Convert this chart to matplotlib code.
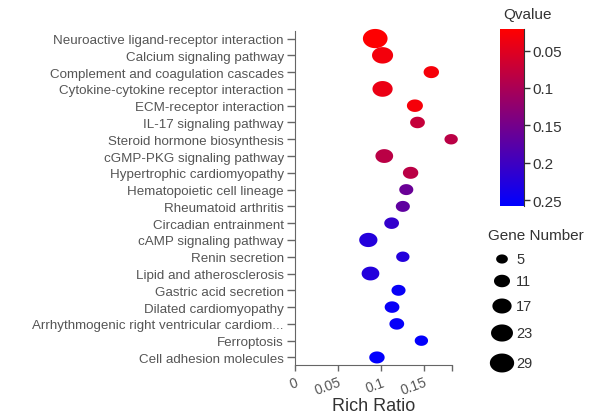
"""KEGG enrichment bubble chart: rich ratio vs pathway, coloured by Q value."""

import matplotlib
matplotlib.use("Agg")
import matplotlib.pyplot as plt
import numpy as np
from matplotlib.colors import LinearSegmentedColormap, Normalize
from matplotlib.cm import ScalarMappable
from matplotlib.path import Path
from matplotlib.transforms import ScaledTranslation

plt.rcParams["font.family"] = ["Liberation Sans", "DejaVu Sans"]

pathways = [
    "Neuroactive ligand-receptor interaction",
    "Calcium signaling pathway",
    "Complement and coagulation cascades",
    "Cytokine-cytokine receptor interaction",
    "ECM-receptor interaction",
    "IL-17 signaling pathway",
    "Steroid hormone biosynthesis",
    "cGMP-PKG signaling pathway",
    "Hypertrophic cardiomyopathy",
    "Hematopoietic cell lineage",
    "Rheumatoid arthritis",
    "Circadian entrainment",
    "cAMP signaling pathway",
    "Renin secretion",
    "Lipid and atherosclerosis",
    "Gastric acid secretion",
    "Dilated cardiomyopathy",
    "Arrhythmogenic right ventricular cardiom...",
    "Ferroptosis",
    "Cell adhesion molecules",
]
rich_ratio = [0.093, 0.1015, 0.158, 0.1015, 0.139, 0.142, 0.181, 0.1035, 0.134, 0.129,
              0.125, 0.112, 0.085, 0.125, 0.0875, 0.120, 0.1125, 0.118, 0.1465, 0.095]
gene_number = [30, 21, 10, 19, 11, 9, 7, 14, 10, 8,
               8, 9, 15, 7, 14, 8, 9, 9, 7, 10]
qvalue = [0.022, 0.033, 0.03, 0.04, 0.03, 0.075, 0.085, 0.085, 0.085, 0.16,
          0.17, 0.21, 0.225, 0.225, 0.225, 0.25, 0.25, 0.252, 0.255, 0.256]

x_ticks = [0, 0.05, 0.1, 0.15]
x_tick_labels = ["0", "0.05", "0.1", "0.15"]
q_ticks = [0.05, 0.1, 0.15, 0.2, 0.25]
q_tick_labels = ["0.05", "0.1", "0.15", "0.2", "0.25"]
legend_counts = [5, 11, 17, 23, 29]

W, H = 597, 414
DPI = 100
TXT = "#555555"
DARK = "#333333"
AXC = "#666666"

# dots in the source are slightly wider than tall
_t = np.linspace(0, 2 * np.pi, 65)
ELLIPSE = Path(np.column_stack([np.cos(_t), 0.78 * np.sin(_t)]))


def dot_size(n):
    width_px = 4.0 * np.sqrt(n) + 2.76
    return (width_px * 72 / DPI) ** 2


cmap = LinearSegmentedColormap.from_list("qv", ["#ff0000", "#0000ff"])
norm = Normalize(0.021, 0.258)

fig = plt.figure(figsize=(W / DPI, H / DPI), dpi=DPI)
ax = fig.add_axes([295 / W, 1 - 366 / H, 157 / W, 334 / H])

y = np.arange(len(pathways))
ax.scatter(rich_ratio, y, s=[dot_size(n) for n in gene_number],
           c=qvalue, cmap=cmap, norm=norm, marker=ELLIPSE, linewidths=0,
           zorder=3, clip_on=False)

ax.set_ylim(len(pathways) - 0.55, -0.45)
ax.set_yticks(y)
ax.set_yticklabels(pathways, fontsize=9.6, color=TXT)
ax.set_xlim(0, 0.182)
ax.set_xticks(x_ticks + [0.182])
ax.set_xticklabels(x_tick_labels + [""], fontsize=10, color=TXT,
                   rotation=20, ha="right", va="top", rotation_mode="anchor")
shift = ScaledTranslation(-4 / DPI, 0, fig.dpi_scale_trans)
for lab in ax.get_xticklabels():
    lab.set_transform(lab.get_transform() + shift)
ax.tick_params(axis="y", length=6, width=1, color=AXC, pad=2)
ax.tick_params(axis="x", length=4, width=1, color=AXC, pad=3)
for side in ("top", "right"):
    ax.spines[side].set_visible(False)
for side in ("left", "bottom"):
    ax.spines[side].set_color(AXC)
ax.set_xlabel("Rich Ratio", fontsize=13, color=DARK, labelpad=0)

# Qvalue colour bar
cax = fig.add_axes([500 / W, 1 - 207 / H, 24 / W, 177 / H])
cb = fig.colorbar(ScalarMappable(norm=norm, cmap=cmap), cax=cax)
cb.outline.set_visible(False)
cax.invert_yaxis()
cax.spines["right"].set_visible(True)
cax.spines["right"].set_color(DARK)
cb.set_ticks(q_ticks)
cb.set_ticklabels(q_tick_labels)
cax.tick_params(length=4, width=1, color=DARK, labelsize=11, labelcolor=DARK, pad=2)
fig.text(527 / W, 1 - 15 / H, "Qvalue", fontsize=11, color=DARK, ha="center", va="center")

# Gene Number size legend, laid out in pixel coordinates
lax = fig.add_axes([0, 0, 1, 1])
lax.set_xlim(0, W)
lax.set_ylim(H, 0)
lax.axis("off")
leg_y = [260, 282, 307, 334, 364]
lax.text(488, 236, "Gene Number", fontsize=11, color=DARK, va="center")
lax.scatter([502] * len(legend_counts), leg_y, s=[dot_size(n) for n in legend_counts],
            c="black", marker=ELLIPSE, linewidths=0)
for yy, n in zip(leg_y, legend_counts):
    lax.text(516, yy, str(n), fontsize=10.5, color=DARK, va="center")

fig.savefig("out.png", dpi=DPI)
